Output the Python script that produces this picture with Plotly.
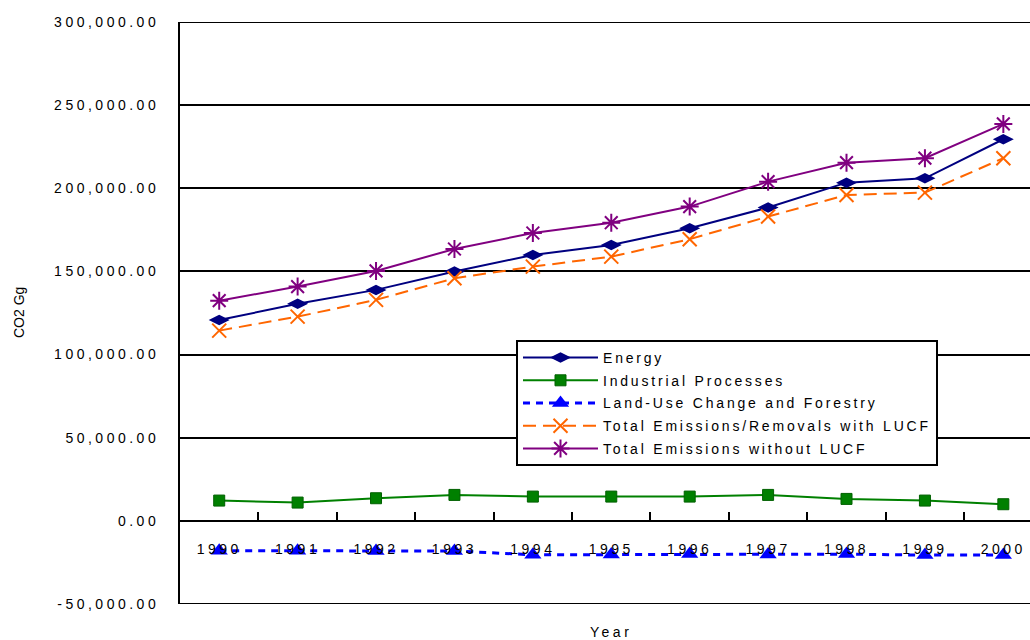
import plotly.graph_objects as go

# Annual CO2 emissions / removals (Gg)
years = ["1990", "1991", "1992", "1993", "1994", "1995", "1996", "1997", "1998", "1999", "2000"]
energy = [120800, 130500, 138900, 149900, 159900, 165900, 176000, 188400, 203400, 206000, 229500]
industrial = [12200, 11000, 13600, 15600, 14600, 14600, 14600, 15600, 13200, 12200, 10000]
lucf = [-18000, -18000, -18100, -18100, -20400, -20200, -20000, -20200, -20000, -20600, -20600]
total_with_lucf = [114400, 122800, 132900, 145900, 152900, 158900, 169400, 183000, 196000, 197400, 218100]
total_without_lucf = [132400, 140900, 150300, 163500, 173100, 179300, 189000, 204000, 215400, 218100, 238700]

y_tick_values = [-50000, 0, 50000, 100000, 150000, 200000, 250000, 300000]
y_tick_labels = ["-50,000.00", "0.00", "50,000.00", "100,000.00", "150,000.00",
                 "200,000.00", "250,000.00", "300,000.00"]

FONT = "Liberation Sans, Arial, sans-serif"


def spaced(text, px):
    return f'<span style="letter-spacing:{px}px">{text}</span>'


fig = go.Figure()

series = [
    ("Energy", energy, dict(color="#000080", width=2, dash="solid"),
     dict(symbol="diamond-wide", size=15, color="#000080")),
    ("Industrial Processes", industrial, dict(color="#008000", width=2, dash="solid"),
     dict(symbol="square", size=11, color="#008000", line=dict(color="#006000", width=1))),
    ("Land-Use Change and Forestry", lucf, dict(color="#0000FF", width=3, dash="7px,6px"),
     dict(symbol="triangle-up", size=15, color="#0000FF")),
    ("Total Emissions/Removals with LUCF", total_with_lucf, dict(color="#FF6600", width=2, dash="13px,7px"),
     dict(symbol="x-thin-open", size=14, color="#FF6600", line=dict(color="#FF6600", width=2))),
    ("Total Emissions without LUCF", total_without_lucf, dict(color="#800080", width=2, dash="solid"),
     dict(symbol="asterisk-open", size=15, color="#800080", line=dict(color="#800080", width=2))),
]

for name, vals, line, marker in series:
    fig.add_trace(go.Scatter(
        x=years, y=vals, name=spaced(name, 2.8), mode="lines+markers",
        line=line, marker=marker, legendgroup=name,
    ))

# Frame lines at the top and bottom of the value range
for yv in (y_tick_values[0], y_tick_values[-1]):
    fig.add_shape(type="line", xref="paper", yref="y", x0=0, x1=1, y0=yv, y1=yv,
                  line=dict(color="black", width=2), layer="below")

fig.update_layout(
    width=1030, height=640,
    margin=dict(l=180, r=0, t=22, b=36),
    paper_bgcolor="white", plot_bgcolor="white",
    font=dict(family=FONT, size=14, color="#000000"),
    showlegend=True,
    legend=dict(
        x=(516 - 180) / 850, y=(604 - 340) / 582, xanchor="left", yanchor="top",
        bgcolor="white", bordercolor="black", borderwidth=2,
        font=dict(family=FONT, size=14, color="#000000"),
        itemwidth=75, tracegroupgap=1.5,
    ),
    xaxis=dict(
        type="category", range=[-0.5, 10.34],
        anchor="free", position=50000 / 350000,
        showline=True, linecolor="black", linewidth=2,
        ticks="inside", tickson="boundaries", ticklen=8, tickwidth=2, tickcolor="black",
        tickmode="array", tickvals=years, ticktext=[spaced(y, 3.5) for y in years],
        ticklabelstandoff=15,
        showgrid=False, zeroline=False,
    ),
    yaxis=dict(
        range=[y_tick_values[0], y_tick_values[-1]],
        tickmode="array", tickvals=y_tick_values, ticktext=[spaced(t, 3.5) for t in y_tick_labels],
        showgrid=True, gridcolor="black", gridwidth=1.5,
        showline=True, linecolor="black", linewidth=2,
        zeroline=False, ticks="", ticklabelstandoff=16,
    ),
    annotations=[
        dict(text="CO2 Gg", textangle=-90, xref="paper", yref="paper",
             x=(19 - 180) / 850, y=(604 - 313) / 582, xanchor="center", yanchor="middle",
             showarrow=False, font=dict(family=FONT, size=14)),
        dict(text=spaced("Year", 3.5), xref="paper", yref="paper",
             x=(611 - 180) / 850, y=-(632 - 604) / 582, xanchor="center", yanchor="middle",
             showarrow=False, font=dict(family=FONT, size=14)),
    ],
)

fig.write_html("out.html")
